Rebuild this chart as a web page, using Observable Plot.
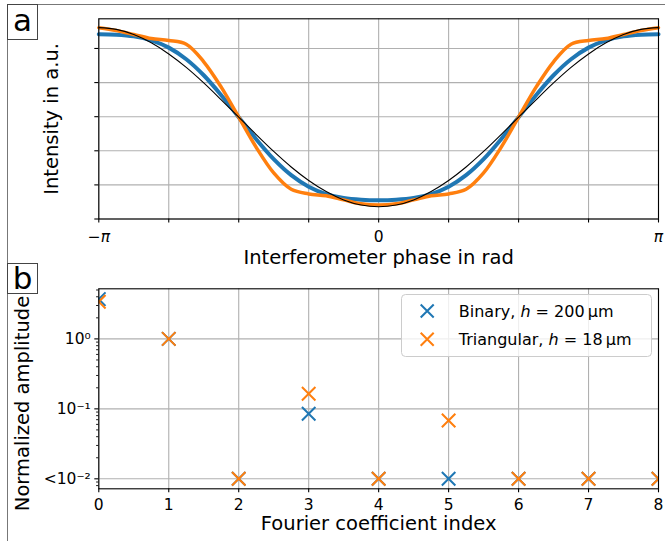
<!DOCTYPE html>
<html>
<head>
<meta charset="utf-8">
<script src="https://cdn.jsdelivr.net/npm/d3@7"></script>
<script src="https://cdn.jsdelivr.net/npm/@observablehq/plot@0.6"></script>
<style>
  body { margin: 0; background: #fff; font-family: "DejaVu Sans", sans-serif; }
  #fig { position: relative; width: 665px; height: 541px; overflow: hidden; background: #fff; }
  #fig svg.plot { position: absolute; left: 0; overflow: visible; }
  .fline { position: absolute; background: #777; }
  .tag { position: absolute; box-sizing: border-box; border: 1px solid #444; background: #fff;
         font-family: "DejaVu Sans", sans-serif; color: #000; text-align: center; }
</style>
</head>
<body>
<div id="fig"></div>
<script>
// ---------- Panel a data (phase in units of pi) ----------
const phase = [-1, -0.9375, -0.875, -0.8125, -0.75, -0.6875, -0.625, -0.5625, -0.5,
  -0.4375, -0.375, -0.3125, -0.25, -0.1875, -0.125, -0.0625, 0,
  0.0625, 0.125, 0.1875, 0.25, 0.3125, 0.375, 0.4375, 0.5,
  0.5625, 0.625, 0.6875, 0.75, 0.8125, 0.875, 0.9375, 1];
const binaryIntensity = [1.084, 1.081, 1.071, 1.048, 1.005, 0.937, 0.843, 0.726, 0.597,
  0.468, 0.351, 0.257, 0.189, 0.146, 0.123, 0.113, 0.110,
  0.113, 0.123, 0.146, 0.189, 0.257, 0.351, 0.468, 0.597,
  0.726, 0.843, 0.937, 1.005, 1.048, 1.071, 1.081, 1.084];
const triangularIntensity = [1.122, 1.105, 1.082, 1.058, 1.047, 1.025, 0.922, 0.773, 0.597,
  0.420, 0.270, 0.174, 0.147, 0.136, 0.112, 0.089, 0.082,
  0.089, 0.112, 0.136, 0.147, 0.174, 0.270, 0.420, 0.597,
  0.773, 0.922, 1.025, 1.047, 1.058, 1.082, 1.105, 1.122];
const cosineIntensity = [1.122, 1.112, 1.082, 1.033, 0.968, 0.889, 0.798, 0.699, 0.597,
  0.495, 0.396, 0.305, 0.226, 0.161, 0.112, 0.082, 0.072,
  0.082, 0.112, 0.161, 0.226, 0.305, 0.396, 0.495, 0.597,
  0.699, 0.798, 0.889, 0.968, 1.033, 1.082, 1.112, 1.122];
const phaseTicks = [-1, -0.75, -0.5, -0.25, 0, 0.25, 0.5, 0.75, 1];
const phaseTickLabelsItalic = [[-1, "−π"], [1, "π"]];
const phaseTickLabelsUpright = [[0, "0"]];
const intensityTicks = [0, 0.2, 0.4, 0.6, 0.8, 1.0];
const xLabelA = "Interferometer phase in rad";
const yLabelA = "Intensity in a.u.";

// ---------- Panel b data ----------
const coefIndex = [0, 1, 2, 3, 4, 5, 6, 7, 8];
const binaryAmp = [3.7, 1, 0.01, 0.085, 0.01, 0.01, 0.01, 0.01, 0.01];
const triangularAmp = [3.4, 1, 0.01, 0.164, 0.01, 0.068, 0.01, 0.01, 0.01];
const ampTicks = [0.01, 0.1, 1];
const ampTickLabels = ["<10⁻²", "10⁻¹", "10⁰"];
const ampMinorTicks = [0.008, 0.009, 0.02, 0.03, 0.04, 0.05, 0.06, 0.07, 0.08, 0.09,
  0.2, 0.3, 0.4, 0.5, 0.6, 0.7, 0.8, 0.9, 2, 3, 4, 5];
const seriesNames = ["Binary", "Triangular"];
const seriesHeights = ["200", "18"];
const seriesColors = ["#1f77b4", "#ff7f0e"];
const xLabelB = "Fourier coefficient index";
const yLabelB = "Normalized amplitude";

const GRID = {stroke: "#b0b0b0", strokeOpacity: 1, strokeWidth: 1.1};
const LABEL_SIZE = 19.5;
const TICK_SIZE = 15.5;
const fig = document.getElementById("fig");

// ---------- Panel a ----------
const lineData = phase.map((p, i) => ({p, b: binaryIntensity[i], t: triangularIntensity[i], c: cosineIntensity[i]}));
const italMap = new Map(phaseTickLabelsItalic);
const uprMap = new Map(phaseTickLabelsUpright);
const plotA = Plot.plot({
  width: 665, height: 262,
  marginLeft: 98.3, marginRight: 7, marginTop: 18.3, marginBottom: 43.5,
  style: {fontFamily: "DejaVu Sans", fontSize: TICK_SIZE + "px", background: "transparent", color: "black"},
  x: {domain: [-1, 1]},
  y: {domain: [0, 1.174]},
  marks: [
    Plot.gridX(phaseTicks, GRID),
    Plot.gridY(intensityTicks, GRID),
    Plot.line(lineData, {x: "p", y: "b", stroke: seriesColors[0], strokeWidth: 4, curve: "catmull-rom"}),
    Plot.line(lineData, {x: "p", y: "t", stroke: seriesColors[1], strokeWidth: 3.5, curve: "catmull-rom"}),
    Plot.line(lineData, {x: "p", y: "c", stroke: "black", strokeWidth: 1.1, curve: "catmull-rom"}),
    Plot.frame({stroke: "black", strokeWidth: 1.1}),
    Plot.axisX(phaseTicks, {tickSize: 4, tickFormat: () => "", label: null, strokeWidth: 1.1}),
    Plot.axisX([...italMap.keys()], {tickSize: 0, tickPadding: 11.5, tickFormat: d => italMap.get(d), label: null, fontSize: TICK_SIZE, fontStyle: "italic"}),
    Plot.axisX([...uprMap.keys()], {tickSize: 0, tickPadding: 11.5, tickFormat: d => uprMap.get(d), label: null, fontSize: TICK_SIZE}),
    Plot.axisY(intensityTicks, {tickSize: 4, tickFormat: () => "", label: null, strokeWidth: 1.1}),
    Plot.text([xLabelA], {frameAnchor: "bottom", lineAnchor: "middle", textAnchor: "middle", dy: 38.5, fontSize: LABEL_SIZE}),
    Plot.text([yLabelA], {frameAnchor: "left", lineAnchor: "middle", textAnchor: "middle", dx: -47, rotate: -90, fontSize: LABEL_SIZE})
  ]
});
plotA.classList.add("plot");
plotA.style.top = "0px";
fig.appendChild(plotA);

// ---------- Panel b ----------
const ampRows = s => coefIndex.map((k, i) => ({k, a: (s === 0 ? binaryAmp : triangularAmp)[i]}));
const ampLabelMap = new Map(ampTicks.map((t, i) => [t, ampTickLabels[i]]));
const plotB = Plot.plot({
  width: 665, height: 279,
  marginLeft: 98.3, marginRight: 7, marginTop: 26.3, marginBottom: 52.7,
  style: {fontFamily: "DejaVu Sans", fontSize: TICK_SIZE + "px", background: "transparent", color: "black"},
  x: {domain: [0, 8]},
  y: {type: "log", domain: [0.0072, 5.2]},
  marks: [
    Plot.gridX(coefIndex, GRID),
    Plot.gridY(ampTicks, GRID),
    Plot.dot(ampRows(0), {x: "k", y: "a", symbol: "times", r: 6.2, stroke: seriesColors[0], strokeWidth: 2, clip: true}),
    Plot.dot(ampRows(1), {x: "k", y: "a", symbol: "times", r: 6.2, stroke: seriesColors[1], strokeWidth: 2, clip: true}),
    Plot.frame({stroke: "black", strokeWidth: 1.1}),
    Plot.axisX(coefIndex, {tickSize: 4, tickPadding: 6, label: null, fontSize: TICK_SIZE, strokeWidth: 1.1}),
    Plot.axisY(ampTicks, {tickSize: 4, tickPadding: 4, tickFormat: d => ampLabelMap.get(d), label: null, fontSize: TICK_SIZE, strokeWidth: 1.1}),
    Plot.axisY(ampMinorTicks, {tickSize: 2.2, tickFormat: () => "", label: null, strokeWidth: 0.9}),
    Plot.text([xLabelB], {frameAnchor: "bottom", lineAnchor: "middle", textAnchor: "middle", dy: 35, fontSize: LABEL_SIZE}),
    Plot.text([yLabelB], {frameAnchor: "left", lineAnchor: "middle", textAnchor: "middle", dx: -76.4, dy: 14.7, rotate: -90, fontSize: LABEL_SIZE})
  ]
});
plotB.classList.add("plot");
plotB.style.top = "262px";
fig.appendChild(plotB);

// ---------- Figure decorations ----------
function addDiv(cls, css, html) {
  const d = document.createElement("div");
  d.className = cls;
  Object.assign(d.style, css);
  if (html != null) d.innerHTML = html;
  fig.appendChild(d);
  return d;
}
addDiv("fline", {left: "7px", top: "4px", width: "660px", height: "1px"});
addDiv("fline", {left: "7px", top: "4px", width: "1px", height: "540px"});
addDiv("tag", {left: "7px", top: "4px", width: "31px", height: "36px", fontSize: "31px", lineHeight: "31px"}, "a");
addDiv("tag", {left: "7px", top: "263px", width: "31px", height: "31px", fontSize: "31px", lineHeight: "29px"}, "b");

// ---------- Legend (SVG with real text) ----------
const NS = "http://www.w3.org/2000/svg";
const lg = document.createElementNS(NS, "svg");
lg.setAttribute("width", "252");
lg.setAttribute("height", "65");
Object.assign(lg.style, {position: "absolute", left: "400.5px", top: "294px", overflow: "visible"});
lg.innerHTML = `<rect x="0.5" y="0.5" width="250" height="62" rx="4" fill="white" fill-opacity="0.8" stroke="#cccccc" stroke-width="1"/>`;
seriesNames.forEach((name, i) => {
  const cy = i === 0 ? 17 : 45.3;
  lg.innerHTML +=
    `<path transform="translate(26.2,${cy})" d="M-6.5,-6.5L6.5,6.5M-6.5,6.5L6.5,-6.5" stroke="${seriesColors[i]}" stroke-width="2" fill="none"/>` +
    `<text x="57.8" y="${cy}" dy="0.36em" font-family="DejaVu Sans" font-size="16" fill="black">${name}, <tspan font-style="italic">h</tspan> = ${seriesHeights[i]}\u2009µm</text>`;
});
fig.appendChild(lg);
</script>
</body>
</html>
